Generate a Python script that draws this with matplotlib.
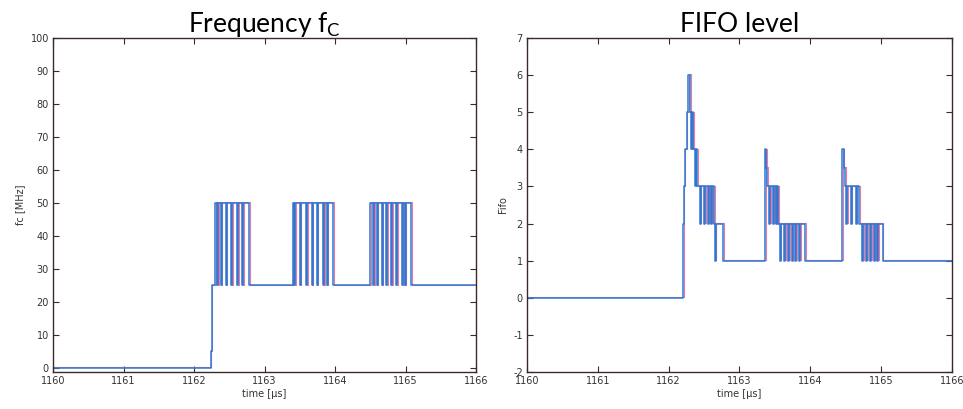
import matplotlib
matplotlib.use("Agg")
import matplotlib.pyplot as plt
import matplotlib.transforms as mtransforms

# ---------------- data (step change points: time in µs, value) ----------------
fc_time = [1160.0, 1162.235, 1162.25, 1162.298,
           1162.33, 1162.345, 1162.38, 1162.392, 1162.45, 1162.465,
           1162.53, 1162.545, 1162.61, 1162.625, 1162.68, 1162.695, 1162.784,
           1163.40, 1163.42, 1163.434, 1163.50, 1163.514, 1163.59, 1163.604,
           1163.67, 1163.684, 1163.74, 1163.754, 1163.83, 1163.844,
           1163.88, 1163.894, 1163.97,
           1164.50, 1164.54, 1164.554, 1164.59, 1164.604, 1164.66, 1164.674,
           1164.73, 1164.744, 1164.80, 1164.814, 1164.87, 1164.884,
           1164.95, 1164.964, 1164.99, 1165.004, 1165.08, 1166.0]
fc_value = [0, 5, 25, 50,
            25, 50, 25, 50, 25, 50,
            25, 50, 25, 50, 25, 50, 25,
            50, 25, 50, 25, 50, 25, 50,
            25, 50, 25, 50, 25, 50,
            25, 50, 25,
            50, 25, 50, 25, 50, 25, 50,
            25, 50, 25, 50, 25, 50,
            25, 50, 25, 50, 25, 25]

fifo_time = [1160.0, 1162.20, 1162.21, 1162.226, 1162.254, 1162.275, 1162.30,
             1162.32, 1162.33, 1162.35, 1162.37, 1162.38, 1162.405,
             1162.44, 1162.452, 1162.50, 1162.512, 1162.555, 1162.567,
             1162.60, 1162.612, 1162.64, 1162.652, 1162.665, 1162.77,
             1163.36, 1163.375, 1163.394, 1163.417, 1163.429, 1163.473, 1163.485,
             1163.52, 1163.532, 1163.55, 1163.568, 1163.58, 1163.63, 1163.642,
             1163.685, 1163.697, 1163.737, 1163.749, 1163.79, 1163.802,
             1163.84, 1163.852, 1163.93,
             1164.454, 1164.47, 1164.49, 1164.51, 1164.522, 1164.57, 1164.582,
             1164.64, 1164.652, 1164.69, 1164.735, 1164.747, 1164.79, 1164.802,
             1164.845, 1164.857, 1164.90, 1164.912, 1164.945, 1164.957,
             1165.02, 1166.0]
fifo_value = [0, 2, 3, 4, 5, 6, 5,
              4, 5, 4, 3, 4, 3,
              2, 3, 2, 3, 2, 3,
              2, 3, 2, 1, 2, 1,
              4, 3.5, 3, 2, 3, 2, 3,
              2, 3, 2, 1, 2, 1, 2,
              1, 2, 1, 2, 1, 2,
              1, 2, 1,
              4, 3.5, 3, 2, 3, 2, 3,
              2, 3, 2, 1, 2, 1, 2,
              1, 2, 1, 2, 1, 2,
              1, 1]

x_ticks = [1160, 1161, 1162, 1163, 1164, 1165, 1166]
fc_ticks = list(range(0, 101, 10))
fifo_ticks = list(range(-2, 8))

# ---------------- styling ----------------
plt.rcParams['mathtext.fontset'] = 'custom'
plt.rcParams['mathtext.rm'] = 'Lato'
plt.rcParams['mathtext.it'] = 'Lato'
plt.rcParams['axes.unicode_minus'] = False

blue = '#2f78d2'
pink = '#e87aa8'
frame = '#3a2b28'
txt = '#333333'

fig = plt.figure(figsize=(9.63, 4.09), dpi=100)
ax1 = fig.add_axes([53 / 963, 1 - 372 / 409, 423 / 963, 334 / 409])
ax2 = fig.add_axes([527 / 963, 1 - 372 / 409, 425 / 963, 334 / 409])


def style(ax, yticks, ylim, ylabel, title):
    ax.set_xlim(1160, 1166)
    ax.set_ylim(*ylim)
    ax.set_xticks(x_ticks)
    ax.set_yticks(yticks)
    ax.tick_params(direction='in', top=True, right=True, length=4, width=0.8,
                   labelsize=7, colors=frame, labelcolor=txt, pad=3)
    for s in ax.spines.values():
        s.set_color(frame)
        s.set_linewidth(1.0)
    ax.set_xlabel('time [\u00b5s]', fontsize=7, color=txt, labelpad=2)
    ax.set_ylabel(ylabel, fontsize=7, color=txt, labelpad=4)
    ax.set_title(title, fontsize=19, family='Lato', pad=4)


def draw(ax, t, v):
    off = mtransforms.offset_copy(ax.transData, fig=fig, x=0.5, y=0.5, units='points')
    ax.step(t, v, where='post', color=pink, lw=0.8, transform=off)
    ax.step(t, v, where='post', color=blue, lw=1.1)


draw(ax1, fc_time, fc_value)
draw(ax2, fifo_time, fifo_value)

style(ax1, fc_ticks, (-1.3, 100), 'fc [MHz]', 'Frequency f$_\\mathrm{C}$')
style(ax2, fifo_ticks, (-2, 7), 'Fifo', 'FIFO level')

fig.savefig('out.png', dpi=100)
